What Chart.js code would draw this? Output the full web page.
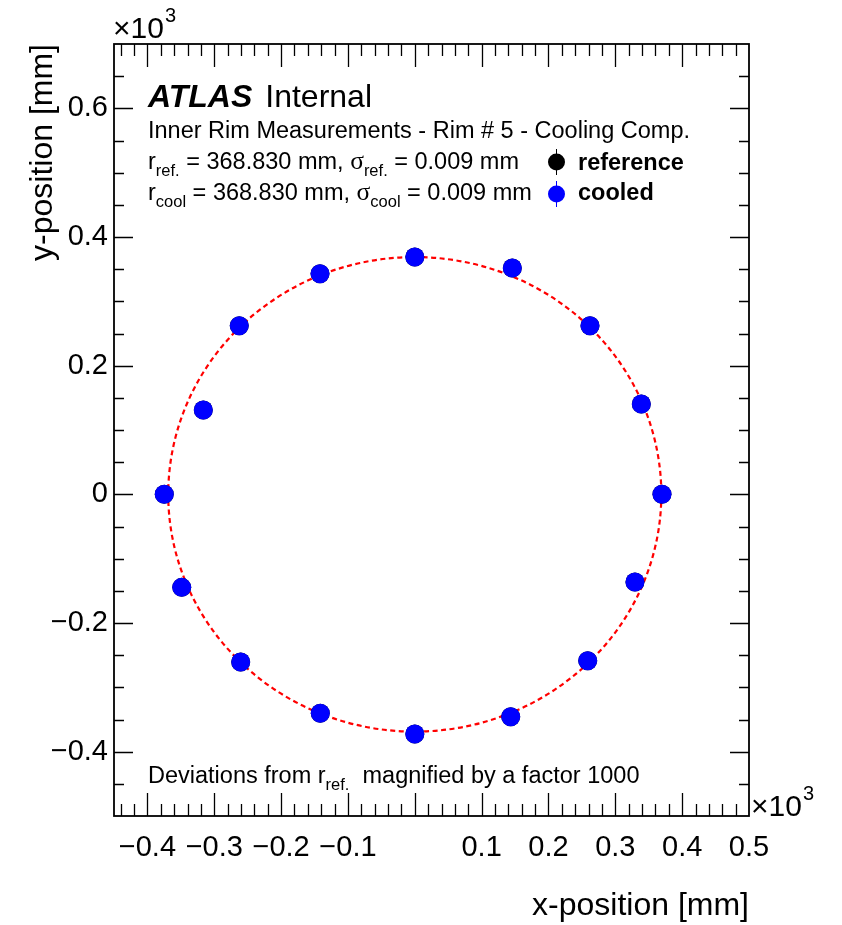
<!DOCTYPE html>
<html>
<head>
<meta charset="utf-8">
<script src="https://cdn.jsdelivr.net/npm/chart.js@4.4.0/dist/chart.umd.min.js"></script>
<style>
  html, body { margin: 0; padding: 0; background: #fff; }
  canvas { display: block; }
</style>
</head>
<body>
<canvas id="rimChart" width="842" height="925"></canvas>
<script>
// Inner rim # 5 measured points in mm, deviations from r_ref magnified x1000
const refX  = [0, 145.9, 262.1, 338.9, 369.8, 329.4, 258.7, 143.5, 0, -141.4, -260.5, -348.7, -374.8, -316.4, -262.6, -141.8];
const refY  = [368.9, 351.8, 262.1, 140.4, 0, -136.3, -258.7, -345.7, -372.6, -340.4, -260.7, -144.6, 0, 131.0, 262.1, 342.9];
const coolX = [0, 145.9, 262.1, 338.9, 369.8, 329.4, 258.7, 143.5, 0, -141.4, -260.5, -348.7, -374.8, -316.4, -262.6, -141.8];
const coolY = [368.9, 351.8, 262.1, 140.4, 0, -136.3, -258.7, -345.7, -372.6, -340.4, -260.7, -144.6, 0, 131.0, 262.1, 342.9];

// labelled axis ticks (mm)
const xTicks = [-400, -300, -200, -100, 100, 200, 300, 400, 500];
const yTicks = [-400, -200, 0, 200, 400, 600];

// fit results
const rRef = 368.830, sigmaRef = 0.009;
const rCool = 368.830, sigmaCool = 0.009;
const magnification = 1000;

const SANS = '"Liberation Sans", Arial, Helvetica, sans-serif';
const SERIF = '"Liberation Serif", "Times New Roman", serif';
const f = (size, style) => (style ? style + ' ' : '') + size + 'px ' + SANS;
const fs = (size) => size + 'px ' + SERIF;

function fmtTick(v) {
    if (v === 0) return '0';
    return (v / 1000).toFixed(1).replace('-', '\u2212');
}

const toPoints = (xs, ys) => xs.map((x, i) => ({ x: x, y: ys[i] }));

// text with sub/superscripts, drawn piece by piece
function drawRich(ctx, x, y, parts) {
    ctx.textAlign = 'left';
    ctx.textBaseline = 'alphabetic';
    parts.forEach(p => {
        ctx.font = p.font;
        ctx.fillText(p.text, x, y + (p.dy || 0));
        x += ctx.measureText(p.text).width;
    });
    return x;
}

// red dashed fit circle of radius r_ref
const fitCircle = {
    id: 'fitCircle',
    beforeDatasetsDraw(chart) {
        const { ctx, scales: { x, y } } = chart;
        const cx = x.getPixelForValue(0), cy = y.getPixelForValue(0);
        const rx = x.getPixelForValue(rRef) - cx;
        const ry = cy - y.getPixelForValue(rRef);
        ctx.save();
        ctx.beginPath();
        ctx.ellipse(cx, cy, rx, ry, 0, 0, Math.PI * 2);
        ctx.setLineDash([5, 3.5]);
        ctx.strokeStyle = '#ff0000';
        ctx.lineWidth = 2.2;
        ctx.stroke();
        ctx.restore();
    }
};

// ROOT style frame with inward ticks on all four sides, plus labels
const rootFrame = {
    id: 'rootFrame',
    afterDraw(chart) {
        const { ctx, chartArea: a, scales: { x, y } } = chart;
        ctx.save();
        ctx.strokeStyle = '#000';
        ctx.lineWidth = 1.3;
        ctx.beginPath();
        for (let v = -440; v < 500; v += 20) {
            const px = Math.round(x.getPixelForValue(v)) + 0.5;
            const len = v % 100 === 0 ? 23 : 12;
            ctx.moveTo(px, a.bottom); ctx.lineTo(px, a.bottom - len);
            ctx.moveTo(px, a.top); ctx.lineTo(px, a.top + len);
        }
        for (let v = -450; v < 700; v += 50) {
            const py = Math.round(y.getPixelForValue(v)) + 0.5;
            const len = v % 200 === 0 ? 19 : 10;
            ctx.moveTo(a.left, py); ctx.lineTo(a.left + len, py);
            ctx.moveTo(a.right, py); ctx.lineTo(a.right - len, py);
        }
        ctx.stroke();
        ctx.lineWidth = 1.8;
        ctx.strokeRect(a.left, a.top, a.right - a.left, a.bottom - a.top);

        ctx.fillStyle = '#000';
        // exponent markers
        let ex = drawRich(ctx, a.left - 1, 38, [{ text: '\u00d710', font: f(30) }]);
        drawRich(ctx, ex + 1, 22, [{ text: '3', font: f(20) }]);
        ex = drawRich(ctx, a.right + 2, 816, [{ text: '\u00d710', font: f(30) }]);
        drawRich(ctx, ex + 1, 800, [{ text: '3', font: f(20) }]);

        // axis titles, aligned to the axis ends
        ctx.font = f(32);
        ctx.textAlign = 'right';
        ctx.textBaseline = 'alphabetic';
        ctx.fillText('x-position [mm]', a.right, 915);
        ctx.save();
        ctx.translate(52, a.top);
        ctx.rotate(-Math.PI / 2);
        ctx.fillText('y-position [mm]', 0, 0);
        ctx.restore();

        // labels inside the frame
        const M = 23.5, S = 16.5, D = 7;
        const tx = 148;
        const ax = drawRich(ctx, tx, 107, [{ text: 'ATLAS', font: f(32, 'italic bold') }]);
        drawRich(ctx, ax + 13, 107, [{ text: 'Internal', font: f(32) }]);
        drawRich(ctx, tx, 138, [{ text: 'Inner Rim Measurements - Rim # 5 - Cooling Comp.', font: f(M) }]);
        drawRich(ctx, tx, 169, [
            { text: 'r', font: f(M) },
            { text: 'ref.', font: f(S), dy: D },
            { text: ' = ' + rRef.toFixed(3) + ' mm, ', font: f(M) },
            { text: '\u03c3', font: fs(M + 2) },
            { text: 'ref.', font: f(S), dy: D },
            { text: ' = ' + sigmaRef.toFixed(3) + ' mm', font: f(M) }
        ]);
        drawRich(ctx, tx, 200, [
            { text: 'r', font: f(M) },
            { text: 'cool', font: f(S), dy: D },
            { text: ' = ' + rCool.toFixed(3) + ' mm, ', font: f(M) },
            { text: '\u03c3', font: fs(M + 2) },
            { text: 'cool', font: f(S), dy: D },
            { text: ' = ' + sigmaCool.toFixed(3) + ' mm', font: f(M) }
        ]);
        drawRich(ctx, tx, 783, [
            { text: 'Deviations from r', font: f(M) },
            { text: 'ref.', font: f(S), dy: D },
            { text: '  magnified by a factor ' + magnification, font: f(M) }
        ]);

        // legend
        const legend = [
            { label: 'reference', color: '#000000', y: 162, base: 170 },
            { label: 'cooled', color: '#0000ff', y: 194, base: 200 }
        ];
        legend.forEach(l => {
            ctx.strokeStyle = l.color;
            ctx.lineWidth = 1;
            ctx.beginPath();
            ctx.moveTo(556.5, l.y - 13); ctx.lineTo(556.5, l.y + 13);
            ctx.stroke();
            ctx.fillStyle = l.color;
            ctx.beginPath();
            ctx.arc(556.5, l.y, 8.5, 0, Math.PI * 2);
            ctx.fill();
            ctx.fillStyle = '#000';
            drawRich(ctx, 578, l.base, [{ text: l.label, font: f(M, 'bold') }]);
        });
        ctx.restore();
    }
};

const ctx = document.getElementById('rimChart').getContext('2d');
new Chart(ctx, {
    type: 'scatter',
    data: {
        datasets: [
            {
                label: 'cooled',
                data: toPoints(coolX, coolY),
                backgroundColor: '#0000ff',
                borderWidth: 0,
                pointRadius: 9.5,
                order: 0
            },
            {
                label: 'reference',
                data: toPoints(refX, refY),
                backgroundColor: '#000000',
                borderWidth: 0,
                pointRadius: 9.5,
                order: 1
            }
        ]
    },
    options: {
        responsive: false,
        animation: false,
        events: [],
        layout: {
            padding: { top: 44, right: 93, left: 0, bottom: 0 }
        },
        plugins: {
            legend: { display: false },
            tooltip: { enabled: false }
        },
        scales: {
            x: {
                type: 'linear',
                min: -450,
                max: 500,
                grid: { display: false, drawTicks: false },
                border: { display: false },
                afterFit: scale => { scale.height = 109; },
                afterBuildTicks: scale => { scale.ticks = xTicks.map(v => ({ value: v })); },
                ticks: {
                    autoSkip: false,
                    maxRotation: 0,
                    minRotation: 0,
                    padding: 15,
                    color: '#000',
                    font: { family: SANS, size: 29 },
                    callback: fmtTick
                }
            },
            y: {
                type: 'linear',
                min: -500,
                max: 700,
                grid: { display: false, drawTicks: false },
                border: { display: false },
                afterFit: scale => { scale.width = 114; },
                afterBuildTicks: scale => { scale.ticks = yTicks.map(v => ({ value: v })); },
                ticks: {
                    autoSkip: false,
                    padding: 6,
                    color: '#000',
                    font: { family: SANS, size: 29 },
                    callback: fmtTick
                }
            }
        }
    },
    plugins: [fitCircle, rootFrame]
});
</script>
</body>
</html>
